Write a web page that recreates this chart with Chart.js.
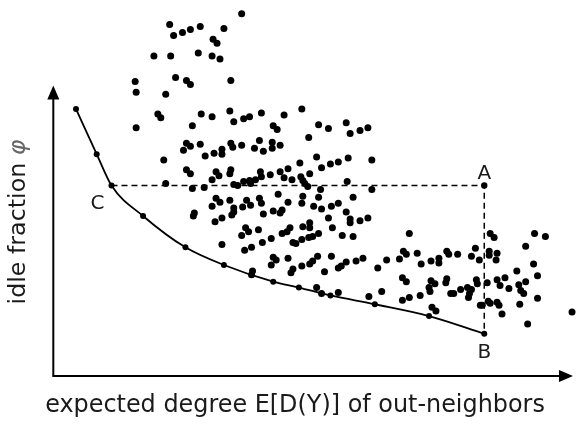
<!DOCTYPE html>
<html>
<head>
<meta charset="utf-8">
<script src="https://cdn.jsdelivr.net/npm/chart.js@4.4.1/dist/chart.umd.min.js"></script>
<style>
html,body{margin:0;padding:0;background:#fff;}
#wrap{width:578px;height:426px;}
</style>
</head>
<body>
<div id="wrap"><canvas id="c" width="578" height="426"></canvas></div>
<script>
// Measured values (arbitrary units; no tick labels in the original)
const scatterX = [168,172,181,189,199,223,212,216,241,152,169,197,211,219,133,134,164,174,185,189,230,
134,156,159,200,211,229,233,243,249,191,185,189,182,199,204,213,221,221,230,232,241,162,185,189,215,218,230,229,211,164,191,203,233,237,243,249,215,219,211,229,233,242,246,
250,259,261,278,193,192,214,221,233,231,263,273,245,248,241,258,221,244,251,262,271,273,276,271,252,251,
261,284,302,273,277,319,329,347,351,361,369,309,259,254,263,272,272,280,300,317,322,331,339,349,373,260,261,270,280,288,284,292,301,310,303,305,308,250,255,348,321,373,
303,319,354,288,302,314,322,332,339,282,280,347,329,351,351,361,369,333,310,310,303,290,287,282,319,313,309,302,293,296,343,354,288,318,313,310,302,293,291,332,347,342,339,357,364,325,379,
317,322,339,
411,405,408,401,419,388,423,433,441,441,449,451,460,404,408,433,437,449,448,431,432,383,422,411,404,370,453,456,463,434,438,
493,497,538,549,529,478,474,482,492,492,500,499,537,520,541,479,490,500,508,503,512,522,529,470,474,472,471,480,524,527,541,483,485,491,493,500,502,523,505,531,576];
const scatterY = [21,32,29,26,23,25,36,40,10,53,53,50,53,56,79,90,92,75,78,82,78,
126,112,116,112,115,109,120,117,115,124,142,145,149,143,155,152,148,153,142,146,144,159,169,173,171,175,169,173,179,183,188,187,184,185,181,180,198,202,206,200,208,207,200,
205,198,203,194,213,216,222,218,212,215,214,211,228,232,236,230,245,251,248,243,239,258,261,266,272,276,
111,113,107,124,128,123,127,121,132,129,126,136,139,147,150,141,147,144,162,156,167,163,161,157,159,171,176,174,171,168,177,179,176,173,180,183,186,183,179,181,189,189,
196,197,197,202,203,206,209,206,203,210,213,212,218,219,223,221,218,228,223,228,227,228,232,234,234,237,238,240,243,244,236,237,259,257,262,265,267,270,274,257,263,267,269,262,259,273,269,
289,295,294,
234,252,255,260,254,261,265,262,259,264,252,255,255,279,283,282,285,280,284,289,293,293,297,299,302,298,295,295,291,309,313,
234,238,234,237,247,249,257,261,252,256,254,261,265,272,277,281,284,281,279,287,290,286,283,289,291,295,299,285,292,295,300,307,307,303,305,304,307,306,316,326,314];
const curveX = [73,94,109,141,184,223,273,299,331,376,431,487];
const curveY = [107,153,185,216,248,266,283,289,297,306,318,336];
const guideX = [109,487,487];   // C -> A -> B
const guideY = [185,185,336];
const pointLabels = ['C','A','B'];
const axisOrigin = [50,379];
const axisEnds = [577,83];
const xTitle = 'expected degree E[D(Y)] of out-neighbors';
const yTitle = 'idle fraction ';
const yTitleSym = 'φ';

const zip = (xs, ys) => xs.map((x, i) => ({x, y: ys[i]}));
const FONT = '"DejaVu Sans", sans-serif';

function fitFont(ctx, text, target, base) {
  ctx.font = base + 'px ' + FONT;
  const w = ctx.measureText(text).width;
  return Math.min(base * 1.4, base * target / w);
}

const decor = {
  id: 'decor',
  beforeDatasetsDraw(chart) {
    const ctx = chart.ctx, sx = chart.scales.x, sy = chart.scales.y;
    const ox = sx.getPixelForValue(axisOrigin[0]), oy = sy.getPixelForValue(axisOrigin[1]);
    const ex = sx.getPixelForValue(axisEnds[0]), ey = sy.getPixelForValue(axisEnds[1]);
    ctx.save();
    ctx.strokeStyle = '#000'; ctx.fillStyle = '#000'; ctx.lineWidth = 2;
    ctx.beginPath();
    ctx.moveTo(ox, ey + 12); ctx.lineTo(ox, oy); ctx.lineTo(ex - 12, oy);
    ctx.stroke();
    ctx.beginPath(); ctx.moveTo(ox, ey); ctx.lineTo(ox - 6, ey + 14); ctx.lineTo(ox + 6, ey + 14); ctx.closePath(); ctx.fill();
    ctx.beginPath(); ctx.moveTo(ex, oy); ctx.lineTo(ex - 14, oy - 6); ctx.lineTo(ex - 14, oy + 6); ctx.closePath(); ctx.fill();
    ctx.restore();
  },
  afterDatasetsDraw(chart) {
    const ctx = chart.ctx, sx = chart.scales.x, sy = chart.scales.y;
    ctx.save();
    ctx.fillStyle = '#1a1a1a';
    ctx.font = '20px ' + FONT;
    ctx.textAlign = 'center'; ctx.textBaseline = 'middle';
    const offs = [[-14, 18], [0, -12], [0, 19]];
    guideX.forEach((x, i) => {
      ctx.fillText(pointLabels[i], sx.getPixelForValue(x) + offs[i][0], sy.getPixelForValue(guideY[i]) + offs[i][1]);
    });
    // x title
    const fx = fitFont(ctx, xTitle, 500, 20);
    ctx.font = fx + 'px ' + FONT;
    ctx.fillText(xTitle, 295, 406);
    // y title
    const fy = fitFont(ctx, yTitle + yTitleSym, 165, 20);
    ctx.translate(19, 222);
    ctx.rotate(-Math.PI / 2);
    ctx.font = fy + 'px ' + FONT;
    const w1 = ctx.measureText(yTitle).width;
    ctx.font = 'italic ' + fy + 'px ' + FONT;
    const w2 = ctx.measureText(yTitleSym).width;
    ctx.textAlign = 'left';
    ctx.font = fy + 'px ' + FONT;
    ctx.fillText(yTitle, -(w1 + w2) / 2, 0);
    ctx.font = 'italic ' + fy + 'px ' + FONT;
    ctx.fillStyle = '#666';
    ctx.fillText(yTitleSym, -(w1 + w2) / 2 + w1, 0);
    ctx.restore();
  }
};

new Chart(document.getElementById('c'), {
  data: {
    datasets: [
      {type: 'line', data: zip(guideX, guideY), borderColor: '#000', borderWidth: 1.5, borderDash: [6, 4],
       pointRadius: [0, 3.2, 0], pointBackgroundColor: '#000', pointBorderWidth: 0, tension: 0, clip: false},
      {type: 'line', data: zip(curveX, curveY), borderColor: '#000', borderWidth: 1.8,
       pointRadius: 3, pointBackgroundColor: '#000', pointBorderWidth: 0,
       cubicInterpolationMode: 'monotone', clip: false},
      {type: 'scatter', data: zip(scatterX, scatterY), pointRadius: 3.5, pointBackgroundColor: '#000',
       pointBorderWidth: 0, clip: false}
    ]
  },
  options: {
    responsive: false, animation: false, devicePixelRatio: 1,
    layout: {padding: 0},
    plugins: {legend: {display: false}, tooltip: {enabled: false}},
    scales: {
      x: {type: 'linear', min: 0, max: 578, display: false},
      y: {type: 'linear', min: 0, max: 426, reverse: true, display: false}
    }
  },
  plugins: [decor]
});
</script>
</body>
</html>
